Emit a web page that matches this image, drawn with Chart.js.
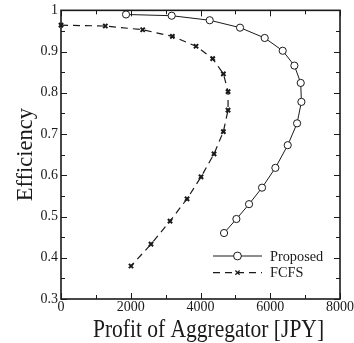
<!DOCTYPE html>
<html>
<head>
<meta charset="utf-8">
<script src="https://cdn.jsdelivr.net/npm/chart.js@4.4.0/dist/chart.umd.min.js"></script>
<style>
  html, body { margin: 0; padding: 0; background: #fff; }
</style>
</head>
<body>
<canvas id="chart" width="354" height="343"></canvas>
<script>
// values
const proposedProfit = [1864, 3174, 4264, 5134, 5841, 6357, 6692, 6874, 6893, 6769, 6501, 6147, 5765, 5392, 5029, 4675];
const proposedEff = [0.990, 0.987, 0.976, 0.958, 0.933, 0.902, 0.866, 0.824, 0.778, 0.726, 0.673, 0.618, 0.570, 0.530, 0.494, 0.460];
const fcfsProfit = [0, 1271, 2342, 3193, 3872, 4350, 4656, 4790, 4790, 4656, 4388, 4015, 3614, 3126, 2581, 2008];
const fcfsEff = [0.964, 0.962, 0.953, 0.937, 0.913, 0.883, 0.846, 0.803, 0.758, 0.706, 0.652, 0.596, 0.543, 0.489, 0.433, 0.380];

const xTicks = [0, 2000, 4000, 6000, 8000];
const yTicks = [0.3, 0.4, 0.5, 0.6, 0.7, 0.8, 0.9, 1];

const seriesNames = ["Proposed", "FCFS"];
const xTitle = "Profit of Aggregator [JPY]";
const yTitle = "Efficiency";

const FONT = "'Liberation Serif', 'Times New Roman', serif";
const INK = "#1a1a1a";

const toPoints = (xs, ys) => xs.map((x, i) => ({ x, y: ys[i] }));

// midpoints between major ticks -> minor ticks
const minorOf = (ticks) => {
  const out = [];
  for (let i = 0; i < ticks.length - 1; i++) out.push((ticks[i] + ticks[i + 1]) / 2);
  return out;
};

// box around the plot + inward ticks on all four sides
const frameTicks = {
  id: "frameTicks",
  afterDatasetsDraw(chart) {
    const { ctx, chartArea: a, scales } = chart;
    const x = scales.x, y = scales.y;
    ctx.save();
    ctx.strokeStyle = INK;
    ctx.lineWidth = 1.6;
    ctx.strokeRect(a.left, a.top, a.right - a.left, a.bottom - a.top);
    ctx.lineWidth = 1;
    ctx.beginPath();
    const xt = xTicks.map((v) => [v, 6]).concat(minorOf(xTicks).map((v) => [v, 4]));
    xt.forEach(([v, len]) => {
      const px = Math.round(x.getPixelForValue(v)) + 0.5;
      ctx.moveTo(px, a.bottom);
      ctx.lineTo(px, a.bottom - len);
      ctx.moveTo(px, a.top);
      ctx.lineTo(px, a.top + len);
    });
    const yt = yTicks.map((v) => [v, 6]).concat(minorOf(yTicks).map((v) => [v, 4]));
    yt.forEach(([v, len]) => {
      const py = Math.round(y.getPixelForValue(v)) + 0.5;
      ctx.moveTo(a.left, py);
      ctx.lineTo(a.left + len, py);
      ctx.moveTo(a.right, py);
      ctx.lineTo(a.right - len, py);
    });
    ctx.stroke();
    ctx.restore();
  },
};

// axis titles (the x title in the original is a bit condensed)
const axisTitles = {
  id: "axisTitles",
  afterDraw(chart) {
    const { ctx, chartArea: a } = chart;
    ctx.save();
    ctx.fillStyle = INK;
    ctx.textAlign = "center";
    ctx.textBaseline = "alphabetic";

    ctx.save();
    ctx.translate((a.left + a.right) / 2 + 8, 337);
    ctx.scale(0.86, 1);
    ctx.font = "25px " + FONT;
    ctx.fillText(xTitle, 0, 0);
    ctx.restore();

    ctx.save();
    ctx.translate(32, (a.top + a.bottom) / 2);
    ctx.rotate(-Math.PI / 2);
    ctx.font = "22.5px " + FONT;
    ctx.fillText(yTitle, 0, 0);
    ctx.restore();

    ctx.restore();
  },
};

// legend in the lower right corner: line with marker
const innerLegend = {
  id: "innerLegend",
  afterDraw(chart) {
    const { ctx, chartArea: a } = chart;
    ctx.save();
    ctx.font = "14.3px " + FONT;
    ctx.textBaseline = "middle";
    const x0 = a.right - 127, x1 = a.right - 78, xm = (x0 + x1) / 2;
    chart.data.datasets.forEach((ds, i) => {
      const ly = a.bottom - 43 + i * 16.6;
      ctx.strokeStyle = INK;
      ctx.lineWidth = ds.borderWidth;
      ctx.setLineDash(ds.borderDash || []);
      ctx.beginPath();
      ctx.moveTo(x0, ly);
      ctx.lineTo(x1, ly);
      ctx.stroke();
      ctx.setLineDash([]);
      if (ds.pointStyle === "circle") {
        ctx.fillStyle = "#fff";
        ctx.lineWidth = ds.pointBorderWidth;
        ctx.beginPath();
        ctx.arc(xm, ly, ds.pointRadius + 0.3, 0, Math.PI * 2);
        ctx.fill();
        ctx.stroke();
      } else {
        Chart.helpers.drawPoint(ctx, {
          pointStyle: ds.pointStyle,
          radius: ds.pointRadius,
          borderWidth: ds.pointBorderWidth,
          rotation: 0,
        }, xm, ly);
      }
      ctx.fillStyle = INK;
      ctx.fillText(ds.label, x1 + 8, ly + 1);
    });
    ctx.restore();
  },
};

const ctx = document.getElementById("chart").getContext("2d");

new Chart(ctx, {
  type: "scatter",
  data: {
    datasets: [
      {
        label: seriesNames[0],
        data: toPoints(proposedProfit, proposedEff),
        showLine: true,
        borderColor: INK,
        borderWidth: 1,
        pointStyle: "circle",
        pointRadius: 3.6,
        pointBorderWidth: 1,
        pointBackgroundColor: "#fff",
        pointBorderColor: INK,
        clip: false,
      },
      {
        label: seriesNames[1],
        data: toPoints(fcfsProfit, fcfsEff),
        showLine: true,
        borderColor: INK,
        borderWidth: 1.2,
        borderDash: [7, 5],
        pointStyle: "crossRot",
        pointRadius: 3,
        pointBorderWidth: 2,
        pointBorderColor: INK,
        clip: false,
      },
    ],
  },
  options: {
    responsive: false,
    animation: false,
    layout: { padding: 0 },
    scales: {
      x: {
        type: "linear",
        min: 0,
        max: 8000,
        afterBuildTicks: (s) => { s.ticks = xTicks.map((v) => ({ value: v })); },
        afterFit: (s) => { s.height = 44; },
        grid: { display: false, drawTicks: false },
        border: { display: false },
        ticks: {
          padding: 0,
          color: INK,
          font: { family: FONT, size: 14 },
          maxRotation: 0,
          callback: (v) => String(v),
        },
        title: { display: false, text: xTitle },
      },
      y: {
        type: "linear",
        min: 0.3,
        max: 1,
        afterBuildTicks: (s) => { s.ticks = yTicks.map((v) => ({ value: v })); },
        afterFit: (s) => { s.width = 61; },
        grid: { display: false, drawTicks: false },
        border: { display: false },
        ticks: {
          padding: 3,
          color: INK,
          font: { family: FONT, size: 14, lineHeight: 1.05 },
          callback: (v) => (v === 1 ? "1" : v.toFixed(1)),
        },
        title: { display: false, text: yTitle },
      },
    },
    plugins: {
      legend: { display: false },
      tooltip: { enabled: false },
    },
  },
  plugins: [frameTicks, axisTitles, innerLegend],
});
</script>
</body>
</html>
